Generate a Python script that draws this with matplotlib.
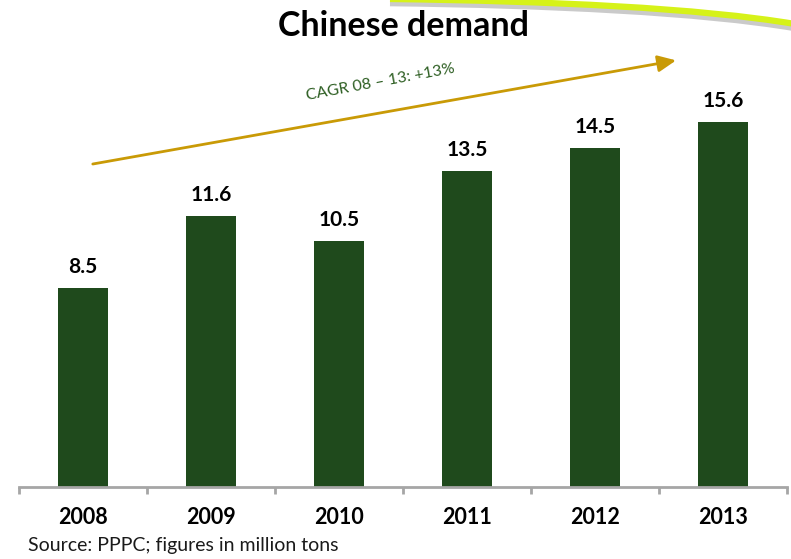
import matplotlib
matplotlib.use("Agg")
import matplotlib.pyplot as plt
from matplotlib.path import Path
from matplotlib.patches import PathPatch, FancyArrowPatch
import matplotlib.patheffects as pe

years = ["2008", "2009", "2010", "2011", "2012", "2013"]
demand = [8.5, 11.6, 10.5, 13.5, 14.5, 15.6]
title = "Chinese demand"
cagr_label = "CAGR 08 \u2013 13: +13%"
source_note = "Source: PPPC; figures in million tons"

bar_color = "#1F4A1C"
arrow_color = "#C99A06"
cagr_color = "#2D5E22"
axis_color = "#A6A6A6"

plt.rcParams["font.family"] = ["Lato", "DejaVu Sans"]

W, H = 791, 559
fig = plt.figure(figsize=(W / 100, H / 100), dpi=100)
fig.patch.set_facecolor("white")

ax = fig.add_axes([19 / W, 1 - 487 / H, (787 - 19) / W, (487 - 40) / H])
x = list(range(len(years)))
ax.bar(x, demand, width=0.39, color=bar_color, zorder=2)
ax.set_xlim(-0.5, len(years) - 0.5)
ax.set_ylim(0, 19.1)

for xi, v in zip(x, demand):
    ax.annotate(f"{v:.1f}", (xi, v), xytext=(0, 21), textcoords="offset pixels",
                ha="center", va="center", fontsize=15, fontweight="bold", color="black")

for s in ["top", "right", "left"]:
    ax.spines[s].set_visible(False)
ax.spines["bottom"].set_color(axis_color)
ax.spines["bottom"].set_linewidth(2)
ax.set_yticks([])
ax.set_xticks([i - 0.5 for i in range(len(years) + 1)])
ax.set_xticklabels([])
ax.tick_params(axis="x", length=5, width=2, color=axis_color, direction="out")
for xi, yr in zip(x, years):
    ax.annotate(yr, (xi, 0), xytext=(0, -31), textcoords="offset pixels",
                ha="center", va="center", fontsize=15.5, fontweight="bold",
                color="black", annotation_clip=False)

# growth arrow
arrow = FancyArrowPatch((0.055, 13.78), (4.655, 18.25),
                        arrowstyle="-|>,head_length=11,head_width=5",
                        mutation_scale=1, color=arrow_color, linewidth=2, zorder=3,
                        clip_on=False)
ax.add_patch(arrow)
fig.text(380 / W, 1 - 82 / H, cagr_label, rotation=10.5, ha="center", va="center",
         fontsize=11.5, color=cagr_color, rotation_mode="anchor")

fig.text(403 / W, 1 - 26 / H, title, ha="center", va="center", fontsize=24.5,
         fontweight="bold", color="black")
fig.text(28 / W, 1 - 546 / H, source_note, ha="left", va="center", fontsize=14,
         color="#1a1a1a")

# decorative swoosh along the top edge
verts = [(390 / W, 1 + 1 / H), (550 / W, 1 - 1 / H), (700 / W, 1 - 8 / H), (795 / W, 1 - 24 / H)]
swoosh = PathPatch(Path(verts, [Path.MOVETO, Path.CURVE4, Path.CURVE4, Path.CURVE4]),
                   transform=fig.transFigure, facecolor="none", edgecolor="#D6F219",
                   linewidth=4.5, zorder=5,
                   path_effects=[pe.SimpleLineShadow(offset=(0, -3), shadow_color="#8a8a8a", alpha=0.45),
                                 pe.Normal()])
fig.patches.append(swoosh)

fig.savefig("out.png", dpi=100, facecolor="white")
